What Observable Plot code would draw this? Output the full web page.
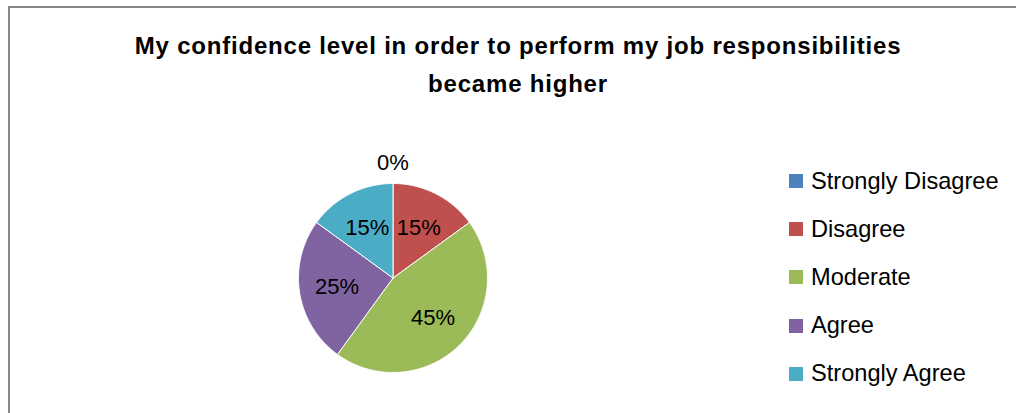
<!DOCTYPE html>
<html>
<head>
<meta charset="utf-8">
<script src="https://cdn.jsdelivr.net/npm/d3@7"></script>
<script src="https://cdn.jsdelivr.net/npm/@observablehq/plot@0.6"></script>
<style>
  html, body { margin: 0; padding: 0; background: #fff; }
  #wrap { position: relative; width: 1016px; height: 413px; overflow: hidden; font-family: "Liberation Sans", Arial, sans-serif; }
  #border { position: absolute; left: 8px; top: 6px; width: 1100px; height: 500px; border: 2px solid #878787; box-sizing: border-box; }
  #title { position: absolute; left: 0; top: 27px; width: 1036px; text-align: center; font-weight: bold; font-size: 24px; letter-spacing: 0.8px; line-height: 38px; color: #000; }
  #plot { position: absolute; left: 0; top: 0; }
  #legend { position: absolute; left: 789px; top: 0; }
  .row { position: absolute; left: 0; display: flex; align-items: center; white-space: nowrap; font-size: 23.6px; color: #000; }
  .sw { width: 14px; height: 14px; margin-right: 8px; }
</style>
</head>
<body>
<div id="wrap">
  <div id="border"></div>
  <div id="title"></div>
  <div id="plot"></div>
  <div id="legend"></div>
</div>
<script>
// ---- data ----
const categories = ["Strongly Disagree", "Disagree", "Moderate", "Agree", "Strongly Agree"];
const percents = [0, 15, 45, 25, 15];
const colors = ["#4F81BD", "#C0504D", "#9BBB59", "#8064A2", "#4BACC6"];
const titleLines = ["My confidence level in order to perform my job responsibilities", "became higher"];

// ---- layout ----
const W = 1016, H = 413;
const cx = 392.5, cy = 277.5, R = 94.5;

const data = categories.map((c, i) => ({category: c, value: percents[i]}));
const arcs = d3.pie().sort(null).value(d => d.value)(data);

// slice polygons in unit-circle coordinates
const polys = [];
arcs.forEach(a => {
  if (a.endAngle - a.startAngle <= 0) return;
  const c = a.data.category;
  polys.push({category: c, x: 0, y: 0});
  const n = Math.max(2, Math.ceil((a.endAngle - a.startAngle) / 0.01));
  for (let k = 0; k <= n; k++) {
    const t = a.startAngle + (a.endAngle - a.startAngle) * k / n;
    polys.push({category: c, x: Math.sin(t), y: Math.cos(t)});
  }
  polys.push({category: c, x: 0, y: 0});
});

const labels = arcs.map(a => {
  const m = (a.startAngle + a.endAngle) / 2;
  const r = a.data.value > 0 ? 0.6 : 1.22;
  return {x: r * Math.sin(m), y: r * Math.cos(m), text: a.data.value + "%"};
});

const chart = Plot.plot({
  width: W, height: H, margin: 0,
  style: {background: "transparent", overflow: "visible"},
  x: {domain: [-cx / R, (W - cx) / R], axis: null},
  y: {domain: [(cy - H) / R, cy / R], axis: null},
  color: {domain: categories, range: colors},
  marks: [
    Plot.line(polys, {x: "x", y: "y", z: "category", fill: "category", stroke: "white", strokeWidth: 1, curve: "linear"}),
    Plot.text(labels, {x: "x", y: "y", text: "text", fontSize: 22, fill: "black", fontFamily: "Liberation Sans, Arial, sans-serif"})
  ]
});
document.getElementById("plot").appendChild(chart);

// title
const t = document.getElementById("title");
titleLines.forEach(l => { const d = document.createElement("div"); d.textContent = l; t.appendChild(d); });

// legend
const lg = document.getElementById("legend");
categories.forEach((c, i) => {
  const row = document.createElement("div");
  row.className = "row";
  row.style.top = (181 + i * 48.2 - 15) + "px";
  row.style.height = "30px";
  const sw = document.createElement("div");
  sw.className = "sw";
  sw.style.background = colors[i];
  const tx = document.createElement("span");
  tx.textContent = c;
  row.appendChild(sw); row.appendChild(tx);
  lg.appendChild(row);
});
</script>
</body>
</html>
